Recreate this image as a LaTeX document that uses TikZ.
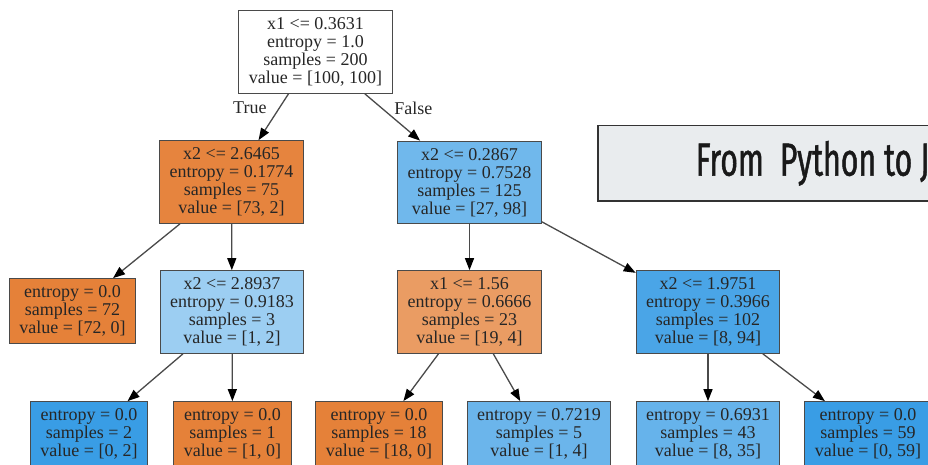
\documentclass[tikz,border=0pt]{standalone}
\usepackage{fontspec}
\setmainfont{Liberation Serif}
\newfontfamily\bannerfont[FakeStretch=0.65,FakeBold=1]{Fira Sans}
\usetikzlibrary{arrows.meta}
\definecolor{treeline}{HTML}{4A4A4A}
\definecolor{treetext}{HTML}{262626}
\definecolor{orangepure}{RGB}{229,129,57}
\definecolor{orangehigh}{RGB}{230,132,62}
\definecolor{orangemid}{RGB}{234,156,99}
\definecolor{bluepure}{RGB}{57,157,229}
\definecolor{bluehigh}{RGB}{74,165,231}
\definecolor{bluemid}{RGB}{112,184,236}
\definecolor{bluefour}{RGB}{107,181,235}
\definecolor{bluefive}{RGB}{102,179,235}
\definecolor{bluelow}{RGB}{156,206,242}
\definecolor{bannergray}{HTML}{E9ECEE}
\tikzset{
  treebox/.style={
    draw=treeline,
    line width=1pt,
    inner xsep=10pt,
    inner ysep=7pt,
    align=center,
    text=treetext,
    font=\fontsize{18}{18}\selectfont
  },
  treearrow/.style={
    -{Triangle[length=12pt,width=9pt,color=black]},
    line width=1.3pt,
    draw=treeline
  },
  branchlabel/.style={
    text=treetext,
    font=\fontsize{18}{18}\selectfont
  },
  bannerbox/.style={
    draw=black!80,
    line width=1.5pt,
    fill=bannergray,
    minimum height=75pt,
    inner xsep=98pt,
    text=black!90,
    font=\bannerfont\fontsize{46.5}{46.5}\selectfont
  }
}
\begin{document}
\begin{tikzpicture}[x=1pt,y=-1pt]
\clip (0,0) rectangle (928,465);
\fill[white] (0,0) rectangle (928,465);
% level 0
\node[treebox, fill=white] (root) at (315.5,52) {x1 <= 0.3631\\entropy = 1.0\\samples = 200\\value = [100, 100]};
% level 1
\node[treebox, fill=orangehigh] (lsplit) at (231.5,182) {x2 <= 2.6465\\entropy = 0.1774\\samples = 75\\value = [73, 2]};
\node[treebox, fill=bluemid] (rsplit) at (469.5,182.5) {x2 <= 0.2867\\entropy = 0.7528\\samples = 125\\value = [27, 98]};
% level 2
\node[treebox, fill=orangepure] (leafa) at (72.5,311) {entropy = 0.0\\samples = 72\\value = [72, 0]};
\node[treebox, fill=bluelow] (llsplit) at (232,312) {x2 <= 2.8937\\entropy = 0.9183\\samples = 3\\value = [1, 2]};
\node[treebox, fill=orangemid] (rlsplit) at (469.5,312) {x1 <= 1.56\\entropy = 0.6666\\samples = 23\\value = [19, 4]};
\node[treebox, fill=bluehigh] (rrsplit) at (708,312) {x2 <= 1.9751\\entropy = 0.3966\\samples = 102\\value = [8, 94]};
% level 3
\node[treebox, fill=bluepure] (leafb) at (89,434) {entropy = 0.0\\samples = 2\\value = [0, 2]};
\node[treebox, fill=orangepure] (leafc) at (232.5,434) {entropy = 0.0\\samples = 1\\value = [1, 0]};
\node[treebox, fill=orangepure] (leafd) at (379,434) {entropy = 0.0\\samples = 18\\value = [18, 0]};
\node[treebox, fill=bluefour] (leafe) at (539,434) {entropy = 0.7219\\samples = 5\\value = [1, 4]};
\node[treebox, fill=bluefive] (leaff) at (708,434) {entropy = 0.6931\\samples = 43\\value = [8, 35]};
\node[treebox, fill=bluepure] (leafg) at (868,434) {entropy = 0.0\\samples = 59\\value = [0, 59]};
% edges
\draw[treearrow] (root) -- node[branchlabel, pos=0.3, left=9pt] (truelbl) {True} (lsplit);
\draw[treearrow] (root) -- node[branchlabel, pos=0.3, right=9pt] (falselbl) {False} (rsplit);
\draw[treearrow] (lsplit) -- (leafa);
\draw[treearrow] (lsplit) -- (llsplit);
\draw[treearrow] (rsplit) -- (rlsplit);
\draw[treearrow] (rsplit) -- (rrsplit);
\draw[treearrow] (llsplit) -- (leafb);
\draw[treearrow] (llsplit) -- (leafc);
\draw[treearrow] (rlsplit) -- (leafd);
\draw[treearrow] (rlsplit) -- (leafe);
\draw[treearrow] (rrsplit) -- (leaff);
\draw[treearrow] (rrsplit) -- (leafg);
% banner
\node[bannerbox, anchor=north west] (banner) at (597,125) {From\ \ Python to Ja};
\end{tikzpicture}
\end{document}
